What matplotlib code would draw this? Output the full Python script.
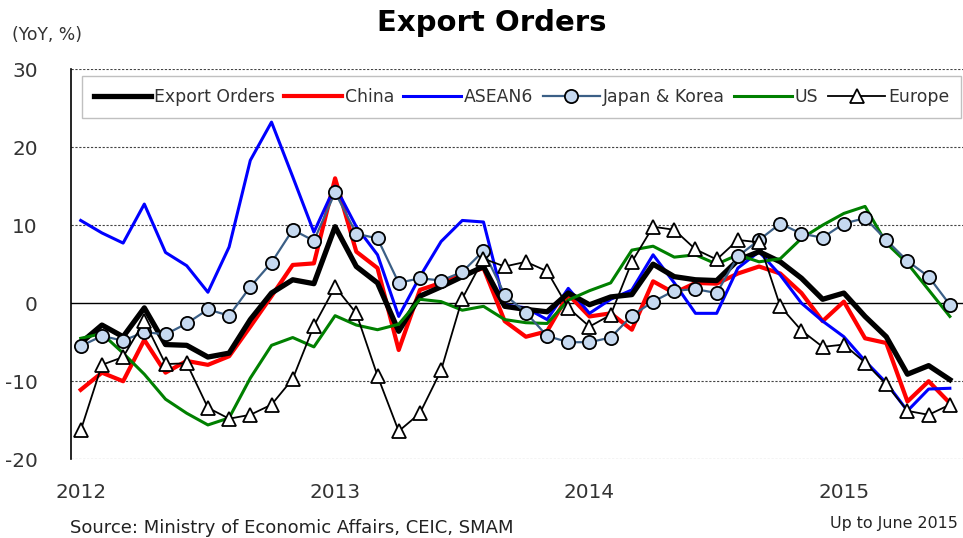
import numpy as np
import matplotlib
matplotlib.use('Agg')
import matplotlib.pyplot as plt

plt.rcParams['axes.unicode_minus'] = False

# Monthly YoY %, Jan 2012 - Jun 2015
export_orders = [-5.1, -2.8, -4.3, -0.6, -5.3, -5.4, -6.9, -6.4, -2.1, 1.3, 3.0, 2.5,
                 9.8, 4.7, 2.6, -3.6, 0.9, 2.1, 3.4, 4.7, -0.4, -0.8, -1.1, 1.3,
                 -0.2, 0.8, 1.1, 5.0, 3.4, 3.0, 2.9, 5.5, 6.6, 5.3, 3.2, 0.5,
                 1.3, -1.7, -4.3, -9.1, -8.0, -9.8]
china = [-11.1, -8.9, -10.0, -4.7, -8.9, -7.4, -7.9, -6.8, -3.0, 0.9, 4.9, 5.1,
         16.0, 6.6, 4.5, -6.0, 1.7, 2.6, 3.6, 4.5, -2.3, -4.3, -3.6, 1.1,
         -1.7, -1.3, -3.4, 2.8, 1.3, 2.6, 2.5, 3.8, 4.7, 3.8, 1.3, -2.3,
         0.2, -4.5, -5.1, -12.6, -10.0, -12.8]
asean6 = [10.6, 9.0, 7.7, 12.7, 6.5, 4.8, 1.4, 7.2, 18.3, 23.2, 16.2, 9.1,
          15.0, 9.8, 6.2, -1.7, 3.4, 7.9, 10.6, 10.4, -0.2, -0.6, -2.1, 1.9,
          -1.3, 0.5, 1.7, 6.2, 2.6, -1.3, -1.3, 4.5, 6.6, 3.6, 0.0, -2.3,
          -4.3, -7.4, -10.2, -13.8, -11.0, -10.9]
japan_korea = [-5.5, -4.2, -4.8, -3.7, -4.0, -2.6, -0.8, -1.6, 2.1, 5.2, 9.4, 8.0,
               14.2, 8.9, 8.3, 2.6, 3.2, 2.9, 4.0, 6.7, 1.1, -1.2, -4.2, -5.0,
               -5.0, -4.4, -1.6, 0.2, 1.6, 1.8, 1.3, 6.0, 8.1, 10.2, 8.9, 8.4,
               10.2, 10.9, 8.1, 5.4, 3.4, -0.2]
us = [-4.5, -3.9, -6.4, -9.1, -12.3, -14.1, -15.6, -14.7, -9.6, -5.4, -4.4, -5.6,
      -1.6, -2.8, -3.4, -2.7, 0.5, 0.2, -0.9, -0.4, -2.1, -2.5, -2.6, 0.4,
      1.6, 2.6, 6.8, 7.3, 5.9, 6.2, 5.0, 6.2, 5.3, 5.7, 8.3, 10.0,
      11.5, 12.4, 7.7, 5.1, 1.7, -1.7]
europe = [-16.3, -7.9, -6.9, -2.3, -7.8, -7.7, -13.4, -14.8, -14.3, -13.0, -9.7, -2.9,
          2.1, -1.3, -9.3, -16.4, -14.1, -8.6, 0.6, 5.7, 4.7, 5.3, 4.1, -0.6,
          -3.0, -1.5, 5.3, 9.8, 9.4, 6.9, 5.6, 8.1, 7.8, -0.4, -3.5, -5.6,
          -5.3, -7.6, -10.4, -13.8, -14.3, -13.0]
year_labels = ['2012', '2013', '2014', '2015']
months = np.arange(len(export_orders))

fig = plt.figure(figsize=(9.63, 5.38), dpi=100)
ax = fig.add_axes([0.0737, 0.1463, 0.9263, 0.7254])

ax.plot(months, china, color='#ff0000', lw=3.0, zorder=3, label='China')
ax.plot(months, asean6, color='#0000ff', lw=2.2, zorder=3, label='ASEAN6')
ax.plot(months, export_orders, color='black', lw=3.8, zorder=4, label='Export Orders')
ax.plot(months, us, color='#008000', lw=2.2, zorder=4, label='US')
ax.plot(months, japan_korea, color='#3b5f86', lw=1.6, marker='o', ms=9.5,
        mfc='#c6d9f0', mec='black', mew=1.3, zorder=5, label='Japan & Korea')
ax.plot(months, europe, color='black', lw=1.3, marker='^', ms=10.5,
        mfc='white', mec='black', mew=1.3, zorder=6, label='Europe')

ax.set_xlim(-0.46, 41.62)
ax.set_ylim(-20, 30)
ax.set_yticks([-20, -10, 0, 10, 20, 30])
ax.set_xticks([0, 12, 24, 36])
ax.set_xticklabels(year_labels)
ax.tick_params(axis='both', length=0, labelsize=14.4, colors='#333333')
ax.tick_params(axis='y', pad=24)
ax.tick_params(axis='x', pad=17)

for v in [-20, -10, 10, 20, 30]:
    ax.axhline(v, color='#444444', lw=0.8, ls=(0, (2, 1.5)), zorder=1)
ax.axhline(0, color='black', lw=1.0, zorder=2)
for s in ['top', 'right', 'bottom']:
    ax.spines[s].set_visible(False)
ax.spines['left'].set_color('black')
ax.spines['left'].set_linewidth(1.2)

# legend in Excel order
handles, labels = ax.get_legend_handles_labels()
order = ['Export Orders', 'China', 'ASEAN6', 'Japan & Korea', 'US', 'Europe']
hmap = dict(zip(labels, handles))
leg = ax.legend([hmap[k] for k in order], order, ncol=6, loc='upper left',
                bbox_to_anchor=(0.012, 0.983), fontsize=12.4, frameon=True,
                fancybox=False, edgecolor='#c0c0c0', framealpha=1,
                handlelength=3.35, handletextpad=0.15, columnspacing=0.55,
                borderpad=0.7, borderaxespad=0)
leg.get_frame().set_linewidth(1.0)
for t in leg.get_texts():
    t.set_color('#333333')
leg.set_zorder(7)

fig.text(0.511, 0.958, 'Export Orders', ha='center', va='center',
         fontsize=21, fontweight='bold', color='black')
fig.text(0.012, 0.935, '(YoY, %)', ha='left', va='center', fontsize=12.4, color='#333333')
fig.text(0.073, 0.018, 'Source: Ministry of Economic Affairs, CEIC, SMAM', ha='left',
         va='center', fontsize=13, color='#222222')
fig.text(0.995, 0.027, 'Up to June 2015', ha='right', va='center', fontsize=11.4, color='#222222')

fig.savefig('out.png', dpi=100)
